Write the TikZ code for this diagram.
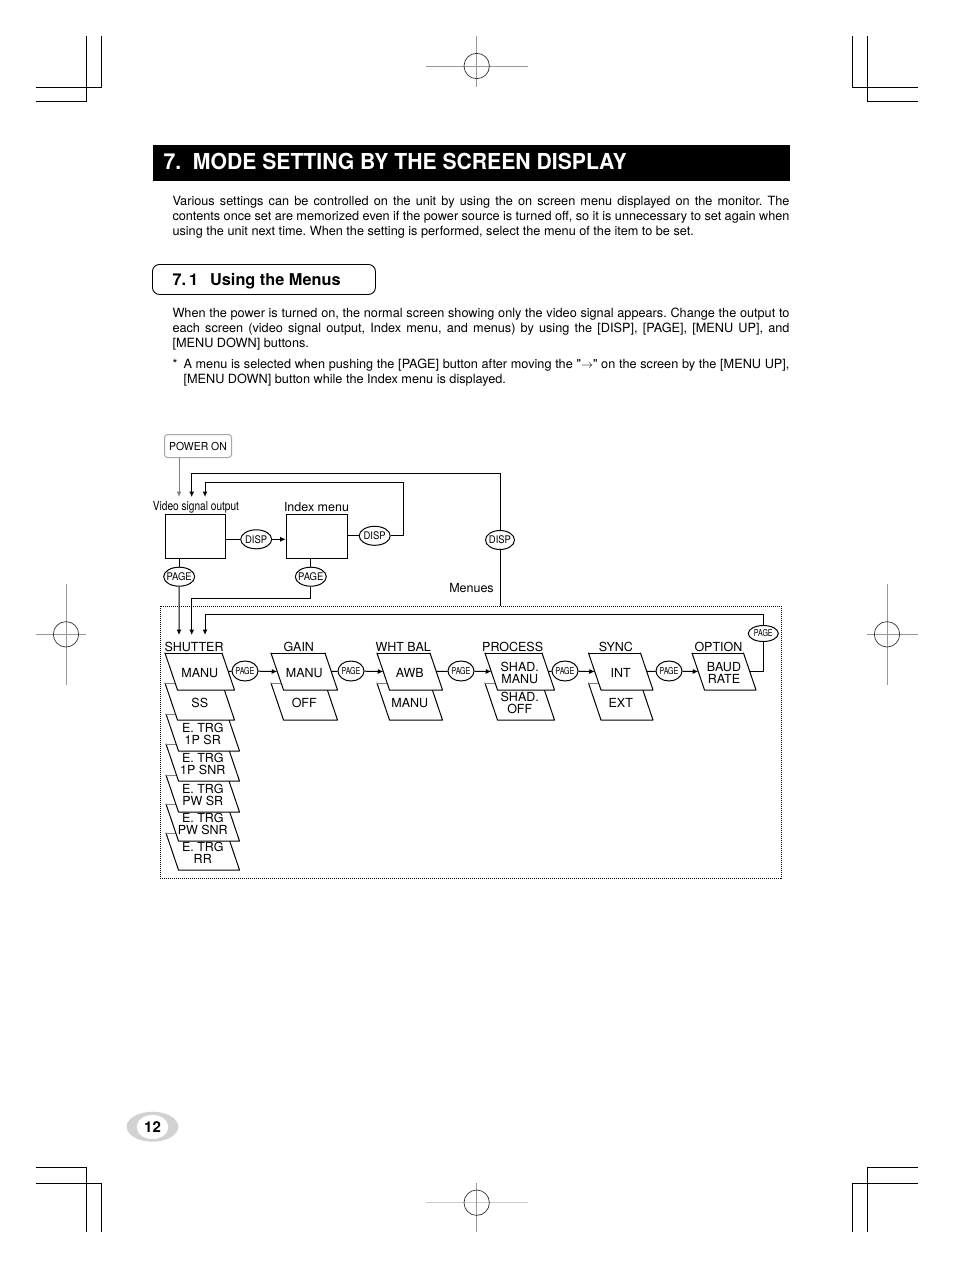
\documentclass[tikz,border=0pt]{standalone}
\usepackage{fontspec}
\usepackage{graphicx}
\setmainfont{TeX Gyre Heros}[Ligatures=TeXOff]
\usetikzlibrary{shapes.geometric,arrows.meta}
\newcommand{\dfont}{\fontsize{12.5}{12.5}\selectfont}
\newcommand{\bfontx}{\fontsize{12.7}{15}\selectfont\frenchspacing}
\newcommand{\ek}[1]{\makebox[0pt]{\fontsize{10.5}{10.5}\selectfont\scalebox{0.9}[1]{#1}}}
\newcommand{\hk}[1]{\makebox[0pt]{\fontsize{9.5}{9.5}\selectfont\scalebox{0.74}[1]{#1}}}
\newcommand{\plgm}[6]{%
  \fill[white] (#2,#3) -- (#2+#4,#3) -- (#2+#4+12.5,#3+37) -- (#2+12.5,#3+37) -- cycle;
  \draw[line join=round,line cap=round] (#2+#4,#3) -- (#2+#4+12.5,#3+37) -- (#2+12.5,#3+37) -- (#2,#3);
  \draw[#5,line cap=round] (#2,#3) -- (#2+#4,#3);
  \coordinate (#1-l) at (#2+6.25,#3+18.5);
  \coordinate (#1-r) at (#2+#4+6.25,#3+18.5);
  \node[ptext] (#1) at (#2+#4/2+6.25,#3+20) {#6};
}
\begin{document}
\begin{tikzpicture}[x=1pt,y=-1pt,line width=1pt,
  box/.style={draw,minimum width=60pt,minimum height=44pt,inner sep=0},
  ell/.style={draw,ellipse,inner sep=0,minimum width=31pt,minimum height=19pt,fill=white},
  hell/.style={ell,minimum width=26pt,minimum height=20pt},
  arr/.style={-{Latex[length=5.5pt,width=5pt]}},
  lab/.style={inner sep=0,font=\dfont},
  ptext/.style={inner sep=0,font=\dfont,align=center},
  body/.style={inner sep=0,anchor=base west,font=\bfontx},
  crop/.style={line width=1pt,black},
  reg/.style={line width=0.9pt,gray!80},
  regc/.style={line width=0.7pt,black!80}]
\useasboundingbox (0,0) rectangle (954,1270);
\fill[white] (0,0) rectangle (954,1270);

% ---------- crop marks ----------
\draw[crop] (36,87.3) -- (101.3,87.3) -- (101.3,35.7);
\draw[crop] (36,101.7) -- (86.7,101.7) -- (86.7,35.7);
\draw[crop] (917.7,87.3) -- (852.7,87.3) -- (852.7,35.7);
\draw[crop] (917.7,101.7) -- (867.3,101.7) -- (867.3,35.7);
\draw[crop] (36,1167.3) -- (86.7,1167.3) -- (86.7,1232.3);
\draw[crop] (36,1183.3) -- (101.3,1183.3) -- (101.3,1232.3);
\draw[crop] (917.7,1167.3) -- (867.3,1167.3) -- (867.3,1232.3);
\draw[crop] (917.7,1183.3) -- (852.7,1183.3) -- (852.7,1232.3);
% registration marks
\draw[reg] (426,66) -- (527.7,66); \draw[reg] (476.7,35.7) -- (476.7,86.7);
\draw[regc] (476.7,66) circle[radius=12.7pt];
\draw[reg,gray!40] (426,1202.7) -- (527.7,1202.7); \draw[reg] (476.7,1182.7) -- (476.7,1232.3);
\draw[regc] (476.7,1202.7) circle[radius=12.7pt];
\draw[reg] (36,634.3) -- (86,634.3); \draw[reg] (66,584) -- (66,685);
\draw[regc] (66,634.3) circle[radius=12.7pt];
\draw[reg] (867,634.3) -- (918,634.3); \draw[reg] (887,584) -- (887,685);
\draw[regc] (887,634.3) circle[radius=12.7pt];

% ---------- title ----------
\node[fill=black,minimum width=637pt,minimum height=36pt,inner sep=0,anchor=north west] (titlebar) at (152,144) {};
\node[anchor=base west,text=white,inner sep=0,font=\fontsize{22}{22}\selectfont\bfseries] (title) at (163,169.5) {\scalebox{0.962}[1]{7.\ \ MODE SETTING BY THE SCREEN DISPLAY}};

\node[body] (p1a) at (172,205) {\makebox[617pt][s]{Various settings can be controlled on the unit by using the on screen menu displayed on the monitor. The}};
\node[body] (p1b) at (172,220) {\makebox[617pt][s]{contents once set are memorized even if the power source is turned off, so it is unnecessary to set again when}};
\node[body] (p1c) at (172,235) {using the unit next time. When the setting is performed, select the menu of the item to be set.};

\node[draw,rounded corners=7pt,minimum width=223pt,minimum height=30pt,inner sep=0,anchor=north west,line width=0.9pt] (secbox) at (152,264) {};
\node[anchor=base west,inner sep=0,font=\fontsize{16.3}{16.3}\selectfont\bfseries] (sec) at (172,285.5) {7.\hspace{3pt}1\hspace{12pt}Using the Menus};

\node[body] (p2a) at (172,317) {\makebox[617pt][s]{When the power is turned on, the normal screen showing only the video signal appears. Change the output to}};
\node[body] (p2b) at (172,332) {\makebox[617pt][s]{each screen (video signal output, Index menu, and menus) by using the [DISP], [PAGE], [MENU UP], and}};
\node[body] (p2c) at (172,347) {[MENU DOWN] buttons.};
\node[body] (star) at (172,368) {*};
\node[body] (p3a) at (183,368) {\makebox[606pt][s]{A menu is selected when pushing the [PAGE] button after moving the "$\rightarrow$" on the screen by the [MENU UP],}};
\node[body] (p3b) at (183,383) {[MENU DOWN] button while the Index menu is displayed.};

% ---------- diagram: upper part ----------
\node[draw=gray!70,rounded corners=3pt,minimum width=67pt,minimum height=23pt,inner sep=0,font=\fontsize{11}{11}\selectfont] (pwr) at (198,446) {\scalebox{0.95}[1]{POWER ON}};
\node[box] (vid) at (195,536.3) {};
\node[box,minimum width=61pt] (idx) at (316.7,536.3) {};
\node[lab,anchor=base] (vidlab) at (196,510.5) {\scalebox{0.81}[1]{Video signal output}};
\node[lab,anchor=base] (idxlab) at (316.5,511.5) {Index menu};
\node[ell] (disp1) at (256.2,539.3) {\ek{DISP}};
\node[ell] (disp2) at (374.7,535.8) {\ek{DISP}};
\node[ell,minimum width=29pt] (disp3) at (500,540) {\ek{DISP}};
\node[ell] (pg1) at (179.2,576.7) {\ek{PAGE}};
\node[ell] (pg2) at (310.8,576.7) {\ek{PAGE}};
\node[lab,anchor=base] (menues) at (471.5,592.5) {Menues};
\node[draw,dash pattern=on 1pt off 1pt,line width=0.9pt,minimum width=621pt,minimum height=272pt,inner sep=0] (frame) at (470.5,742) {};

\coordinate (in1) at (179,497);
\coordinate (in2) at (191.7,497);
\coordinate (in3) at (205,497);
\coordinate (r1) at (500,473.3);
\coordinate (r2) at (403.3,482.3);
\coordinate (r3) at (310.8,598.3);
\coordinate (s1) at (179,635);
\coordinate (s2) at (191.7,635);
\coordinate (s3) at (205,635);

\draw[arr,gray] (pwr.south -| in1) -- (in1);
\draw (vid.east |- disp1.west) -- (disp1.west);
\draw[arr] (disp1.east) -- (idx.west |- disp1.east);
\draw (idx.east |- disp2.west) -- (disp2.west);
\draw[arr] (disp2.east) -| (r2) -| (in3);
\draw[arr] (disp3.north) -- (r1) -| (in2);
\draw (disp3.south) -- (disp3.south |- frame.north);
\draw (vid.south -| pg1) -- (pg1.north);
\draw (idx.south -| pg2) -- (pg2.north);
\draw[arr] (pg1.south) -- (s1);
\draw[arr] (pg2.south) -- (r3) -| (s2);

% ---------- menus ----------
\node[lab,anchor=west] (shl) at (164,646.7) {SHUTTER};
\node[lab,anchor=west] (gal) at (283,646.7) {GAIN};
\node[lab,anchor=west] (wbl) at (375,646.7) {WHT BAL};
\node[lab,anchor=west] (prl) at (481.7,646.7) {PROCESS};
\node[lab,anchor=west] (syl) at (598.3,646.7) {SYNC};
\node[lab,anchor=west] (opl) at (694,646.7) {OPTION};

\plgm{trg5}{166}{833}{61}{gray}{E. TRG\\RR}
\plgm{trg4}{166}{804}{61}{gray}{E. TRG\\PW SNR}
\plgm{trg3}{166}{775}{61}{gray}{E. TRG\\PW SR}
\plgm{trg2}{166}{744}{61}{gray}{E. TRG\\1P SNR}
\plgm{trg1}{166}{714}{61}{gray}{E. TRG\\1P SR}
\plgm{sh2}{165}{683}{57}{gray}{SS}
\plgm{sh1}{165}{653}{57}{black}{MANU}
\plgm{ga2}{271}{683}{54}{gray}{OFF}
\plgm{ga1}{271}{653}{54}{black}{MANU}
\plgm{wb2}{377}{683}{53}{gray}{MANU}
\plgm{wb1}{377}{653}{53}{black}{AWB}
\plgm{pr2}{485}{683}{57}{gray}{SHAD.\\OFF}
\plgm{pr1}{485}{653}{57}{black}{SHAD.\\MANU}
\plgm{sy2}{588.5}{683}{52}{gray}{EXT}
\plgm{sy1}{588.5}{653}{52}{black}{INT}
\plgm{op1}{692}{653}{51.5}{black}{BAUD\\RATE}

\node[hell] (pg3) at (245,671) {\hk{PAGE}};
\node[hell] (pg4) at (351,671) {\hk{PAGE}};
\node[hell] (pg5) at (461,671) {\hk{PAGE}};
\node[hell] (pg6) at (565,671) {\hk{PAGE}};
\node[hell] (pg7) at (669,671) {\hk{PAGE}};
\node[ell,minimum width=30pt,minimum height=16pt] (pg8) at (763.3,633.5) {\hk{PAGE}};

\draw (sh1-r) -- (pg3);  \draw[arr] (pg3) -- (ga1-l);
\draw (ga1-r) -- (pg4);  \draw[arr] (pg4) -- (wb1-l);
\draw (wb1-r) -- (pg5);  \draw[arr] (pg5) -- (pr1-l);
\draw (pr1-r) -- (pg6);  \draw[arr] (pg6) -- (sy1-l);
\draw (sy1-r) -- (pg7);  \draw[arr] (pg7) -- (op1-l);
\coordinate (r4) at (763.3,614);
\draw (op1-r) -| (pg8.south);
\draw[arr] (pg8.north) -- (r4) -| (s3);

% ---------- page number ----------
\node[ellipse,fill=gray!35,minimum width=51.6pt,minimum height=30pt,inner sep=0] (pnbg) at (152.5,1126.7) {};
\node[ellipse,fill=white,minimum width=31.6pt,minimum height=24pt,inner sep=0,font=\fontsize{15}{15}\selectfont\bfseries] (pnum) at (152.5,1127) {12};
\end{tikzpicture}
\end{document}
